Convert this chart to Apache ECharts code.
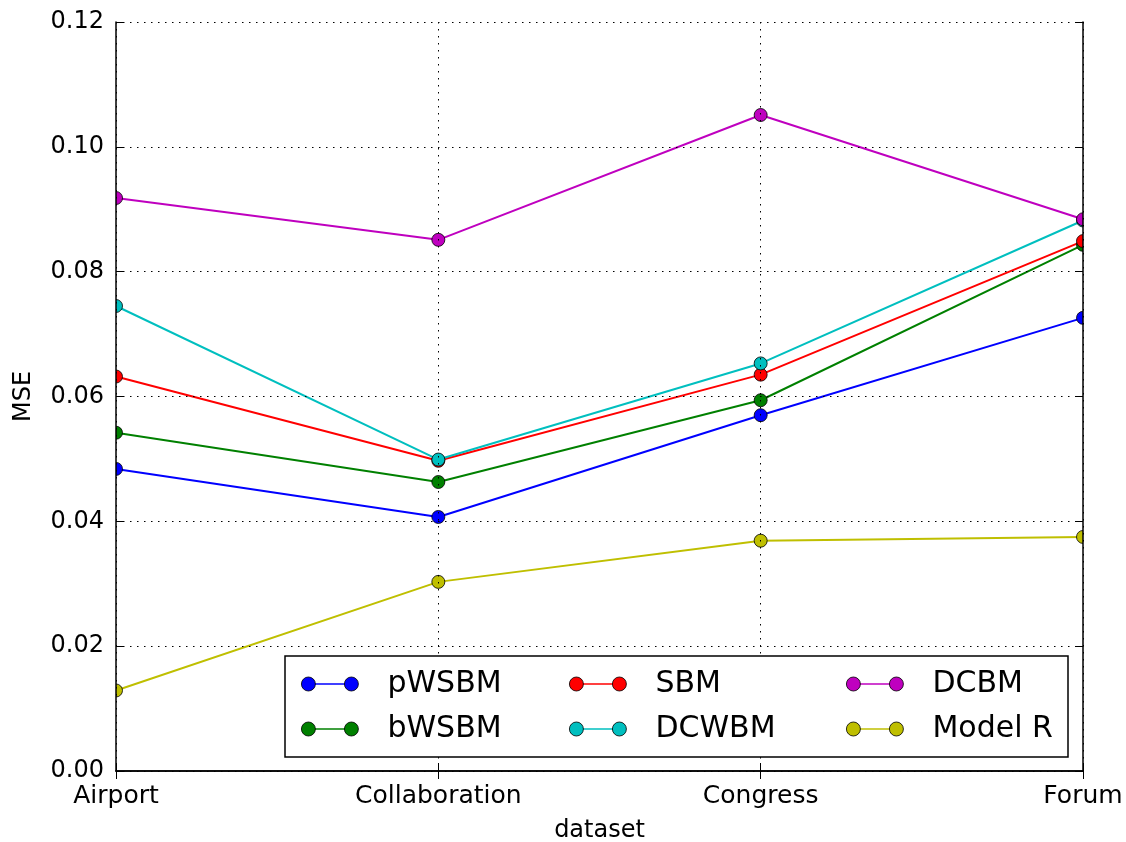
<!DOCTYPE html>
<html>
<head>
<meta charset="utf-8">
<script src="https://cdn.jsdelivr.net/npm/echarts@6/dist/echarts.min.js"></script>
<style>html,body{margin:0;padding:0;background:#fff}#c{width:1126px;height:842px}</style>
</head>
<body>
<div id="c"></div>
<script>
const categories = ['Airport', 'Collaboration', 'Congress', 'Forum'];
const pWSBM  = [0.0484, 0.0407, 0.0570, 0.0726];
const bWSBM  = [0.0542, 0.0463, 0.0594, 0.0843];
const SBM    = [0.0632, 0.0497, 0.0635, 0.0849];
const DCWBM  = [0.0745, 0.0499, 0.0653, 0.0882];
const DCBM   = [0.0918, 0.0851, 0.1051, 0.0884];
const ModelR = [0.0129, 0.0303, 0.0369, 0.0375];
const seriesNames = ['pWSBM', 'bWSBM', 'SBM', 'DCWBM', 'DCBM', 'Model R'];
const seriesValues = [pWSBM, bWSBM, SBM, DCWBM, DCBM, ModelR];
const colors = ['#0000ff', '#008000', '#ff0000', '#00bfbf', '#bf00bf', '#bfbf00'];
const yTicks = [0, 0.02, 0.04, 0.06, 0.08, 0.10, 0.12];
const legendColumns = [['pWSBM', 'bWSBM'], ['SBM', 'DCWBM'], ['DCBM', 'Model R']];

const W = 1126, H = 842;
const GL = 116, GR = 1083, GT = 22, GB = 771;
const FONT = 'DejaVu Sans';

const chart = echarts.init(document.getElementById('c'), null, {renderer: 'canvas'});

const gridDash = [1.5, 5.5];
const series = seriesNames.map((n, i) => ({
  name: n,
  type: 'line',
  data: seriesValues[i],
  xAxisIndex: 0, yAxisIndex: 0,
  symbol: 'circle',
  symbolSize: 13,
  showAllSymbol: true,
  z: 2,
  clip: false,
  lineStyle: {color: colors[i], width: 2},
  itemStyle: {color: colors[i], borderColor: '#000', borderWidth: 0.8},
  emphasis: {disabled: true}
}));

const circlesIcon = 'path://M0,7a7,7 0 1,0 14,0a7,7 0 1,0 -14,0Z M43,7a7,7 0 1,0 14,0a7,7 0 1,0 -14,0Z';
const lineIcon = 'path://M0,0L0,0M57,14L57,14M7,6.2L50,6.2L50,7.8L7,7.8Z';
const legendLefts = [301, 569, 846];
const legends = [];
legendColumns.forEach((col, ci) => {
  [0, 1].forEach(layer => {
    legends.push({
      data: col,
      orient: 'vertical',
      left: legendLefts[ci],
      top: 669,
      padding: 0,
      itemGap: 15,
      itemWidth: 57,
      itemHeight: 14,
      icon: layer === 0 ? lineIcon : circlesIcon,
      z: layer === 0 ? 6 : 7,
      selectedMode: false,
      itemStyle: layer === 0 ? {borderWidth: 0} : {borderColor: '#000', borderWidth: 0.8},
      textStyle: {
        fontFamily: FONT, fontSize: 30, lineHeight: 30,
        color: layer === 0 ? 'rgba(0,0,0,0)' : '#000',
        padding: [0, 0, 0, 24]
      }
    });
  });
});

const option = {
  animation: false,
  backgroundColor: '#fff',
  grid: {left: GL, right: W - GR, top: GT, bottom: H - GB, containLabel: false, outerBoundsMode: 'none'},
  xAxis: [{
    type: 'category', data: categories, boundaryGap: false, position: 'bottom', z: 4,
    name: 'dataset', nameLocation: 'middle', nameGap: 48,
    nameTextStyle: {fontFamily: FONT, fontSize: 24, color: '#000'},
    axisLine: {show: true, lineStyle: {color: '#000', width: 1.5}},
    axisTick: {show: true, inside: true, length: 8, lineStyle: {color: '#000', width: 1}},
    axisLabel: {fontFamily: FONT, fontSize: 25, color: '#000', margin: 13},
    splitLine: {show: true, lineStyle: {color: '#000', width: 1, type: gridDash}}
  }, {
    type: 'category', data: categories, boundaryGap: false, position: 'top', z: 4,
    axisLine: {show: true, lineStyle: {color: '#000', width: 1.5}},
    axisTick: {show: true, inside: true, length: 8, lineStyle: {color: '#000', width: 1}},
    axisLabel: {show: false},
    splitLine: {show: false}
  }],
  yAxis: [{
    type: 'value', min: yTicks[0], max: yTicks[yTicks.length - 1], interval: 0.02, position: 'left', z: 4,
    name: 'MSE', nameLocation: 'middle', nameGap: 80,
    nameTextStyle: {fontFamily: FONT, fontSize: 24, color: '#000'},
    axisLine: {show: true, lineStyle: {color: '#000', width: 1.5}},
    axisTick: {show: true, inside: true, length: 8, lineStyle: {color: '#000', width: 1}},
    axisLabel: {fontFamily: FONT, fontSize: 24, color: '#000', margin: 12, formatter: v => v.toFixed(2)},
    splitLine: {show: true, lineStyle: {color: '#000', width: 1, type: gridDash}}
  }, {
    type: 'value', min: yTicks[0], max: yTicks[yTicks.length - 1], interval: 0.02, position: 'right', z: 4,
    axisLine: {show: true, lineStyle: {color: '#000', width: 1.5}},
    axisTick: {show: true, inside: true, length: 8, lineStyle: {color: '#000', width: 1}},
    axisLabel: {show: false},
    splitLine: {show: false}
  }],
  legend: legends,
  graphic: [
    {type: 'rect', z: 3, silent: true, shape: {x: GL - 12, y: GT - 10, width: 12, height: GB - GT + 20}, style: {fill: '#fff'}},
    {type: 'rect', z: 3, silent: true, shape: {x: GR, y: GT - 10, width: 12, height: GB - GT + 20}, style: {fill: '#fff'}},
    {type: 'rect', z: 5, silent: true, shape: {x: 285, y: 656, width: 783, height: 101}, style: {fill: '#fff', stroke: '#000', lineWidth: 1.5}}
  ],
  series: series
};
chart.setOption(option);
</script>
</body>
</html>
